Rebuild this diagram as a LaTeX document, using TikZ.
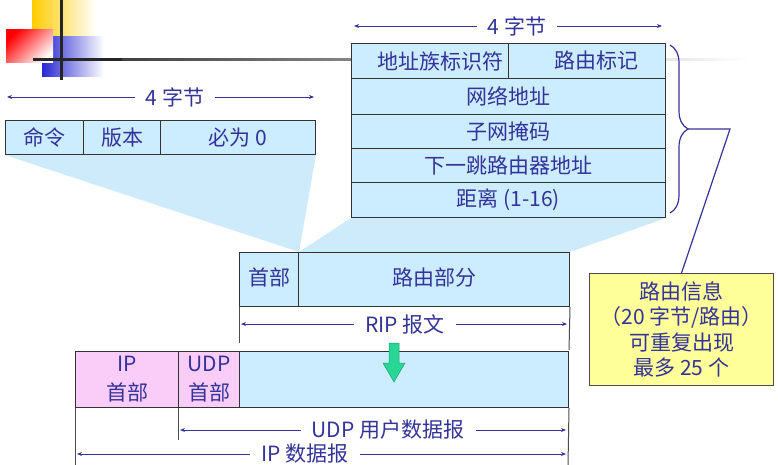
\documentclass[tikz,border=0pt]{standalone}
\usepackage{fontspec}
\setmainfont{Noto Sans CJK SC}
\usetikzlibrary{arrows.meta,backgrounds,decorations.pathreplacing}
\definecolor{cellblue}{RGB}{204,236,255}
\definecolor{wedgeblue}{RGB}{206,235,251}
\definecolor{hdrpink}{RGB}{250,204,248}
\definecolor{inkblue}{RGB}{51,51,153}
\definecolor{noteyellow}{RGB}{255,255,153}
\definecolor{downgreen}{RGB}{40,214,150}
\definecolor{logoyellow}{RGB}{255,204,0}
\definecolor{logoblue}{RGB}{40,40,210}

\tikzset{
  cell/.style={draw=black!80, line width=1pt, fill=cellblue, text=inkblue,
    inner sep=0pt, anchor=north west, font=\fontsize{21}{24}\selectfont},
  hdrcell/.style={cell, fill=hdrpink, align=center, font=\fontsize{21}{29}\selectfont},
  dimlabel/.style={text=inkblue, inner xsep=11pt, inner ysep=0pt, font=\fontsize{21}{24}\selectfont},
  dimline/.style={draw=inkblue, line width=0.9pt, -{Stealth[length=5pt,width=4pt]}},
  tickline/.style={draw=black!70, line width=1pt},
  note/.style={draw=black!70, line width=1pt, fill=noteyellow, text=inkblue, anchor=north west,
    inner sep=0pt, align=center, font=\fontsize{21}{25.5}\selectfont}
}

\begin{document}
\begin{tikzpicture}[x=1pt,y=-1pt]
  \useasboundingbox (0,0) rectangle (778,465);

  % logo
  \shade[left color=logoyellow, middle color=logoyellow!85, right color=white] (32,0) rectangle (96,40);
  \shade[left color=logoblue, middle color=logoblue!80, right color=white] (42,37) rectangle (104,77);
  \shade[bottom color=white, top color=red, shading angle=45] (6,30) rectangle (53,63);
  \draw[black!85, line width=3pt] (61,0) -- (61,80);
  \draw[black!85, line width=3pt] (33,60) -- (124,60);
  \shade[left color=black!75, right color=white] (122,58.5) rectangle (750,61);

  % left table
  \node[cell, minimum width=78pt, minimum height=34pt] (cmd) at (5,120) {命令};
  \node[cell, minimum width=77pt, minimum height=34pt] (ver) at (83,120) {版本};
  \node[cell, minimum width=155pt, minimum height=34pt] (zero) at (160,120) {必为 0};

  % right table
  \node[cell, minimum width=157pt, minimum height=35pt] (afi) at (351,43) {\hspace{20pt}地址族标识符};
  \node[cell, minimum width=157pt, minimum height=35pt] (tag) at (508,43) {\hspace{18pt}路由标记};
  \node[cell, minimum width=314pt, minimum height=36pt] (net) at (351,78) {网络地址};
  \node[cell, minimum width=314pt, minimum height=34pt] (mask) at (351,114) {子网掩码};
  \node[cell, minimum width=314pt, minimum height=34pt] (hop) at (351,148) {下一跳路由器地址};
  \node[cell, minimum width=314pt, minimum height=35pt] (dist) at (351,182) {距离 (1-16)};

  % RIP message
  \node[cell, minimum width=59pt, minimum height=54pt] (hdr) at (239,252) {\raisebox{5pt}{首部}};
  \node[cell, minimum width=271pt, minimum height=54pt] (route) at (298,252) {\raisebox{5pt}{路由部分}};

  % IP datagram
  \node[hdrcell, minimum width=103pt, minimum height=56pt] (iphdr) at (75,351) {IP\\首部};
  \node[hdrcell, minimum width=61pt, minimum height=56pt] (udphdr) at (178,351) {UDP\\首部};
  \node[cell, minimum width=329pt, minimum height=56pt] (data) at (239,351) {};

  % projections
  \begin{scope}[on background layer]
    \fill[wedgeblue] (cmd.south west) -- (zero.south east) -- (hdr.north east) -- cycle;
    \fill[wedgeblue] (afi.south west |- dist.south) -- (dist.south east) -- (route.north east) -- (hdr.north east) -- cycle;
  \end{scope}

  % down arrow
  \draw[downgreen!75!black, line width=0.5pt, fill=downgreen]
    (389,343) -- (399,343) -- (399,363) -- (405,363) -- (394,382) -- (383,363) -- (389,363) -- cycle;

  % brace and note
  \draw[inkblue, line width=1.2pt, decorate, decoration={brace, amplitude=18pt}] (670,45) -- (670,213);
  \node[note, minimum width=184pt, minimum height=112pt] (note) at (589,273)
    {路由信息\\（20 字节/路由）\\可重复出现\\最多 25 个};
  \coordinate (bracetip) at (688,129);
  \coordinate (bend) at (730,129);
  \draw[inkblue, line width=1.2pt] (bracetip) -- (bend) -- (note.north);

  % widths
  \node[dimlabel] (lwidth) at (175,97) {4 字节};
  \coordinate (lwidthL) at (7,97);
  \coordinate (lwidthR) at (314,97);
  \draw[dimline] (lwidth) -- (lwidthL);
  \draw[dimline] (lwidth) -- (lwidthR);

  \node[dimlabel] (rwidth) at (517,26) {4 字节};
  \coordinate (rwidthL) at (354,26);
  \coordinate (rwidthR) at (662,26);
  \draw[dimline] (rwidth) -- (rwidthL);
  \draw[dimline] (rwidth) -- (rwidthR);

  \coordinate (ripL) at (239,343);
  \coordinate (ripR) at (569,350);
  \draw[tickline] (hdr.south west) -- (ripL);
  \draw[tickline] (route.south east) -- (ripR);
  \node[dimlabel] (rip) at (405,324) {RIP 报文};
  \draw[dimline] (rip) -- (241,324);
  \draw[dimline] (rip) -- (567,324);

  \coordinate (udpL) at (178,440);
  \coordinate (ipL) at (75,465);
  \coordinate (allR) at (568,465);
  \draw[tickline] (udphdr.south west) -- (udpL);
  \draw[tickline] (iphdr.south west) -- (ipL);
  \draw[tickline] (data.south east) -- (allR);
  \node[dimlabel] (udp) at (388,430) {UDP 用户数据报};
  \draw[dimline] (udp) -- (180,430);
  \draw[dimline] (udp) -- (566,430);
  \node[dimlabel] (ip) at (305,454) {IP 数据报};
  \draw[dimline] (ip) -- (77,454);
  \draw[dimline] (ip) -- (566,454);
\end{tikzpicture}
\end{document}
